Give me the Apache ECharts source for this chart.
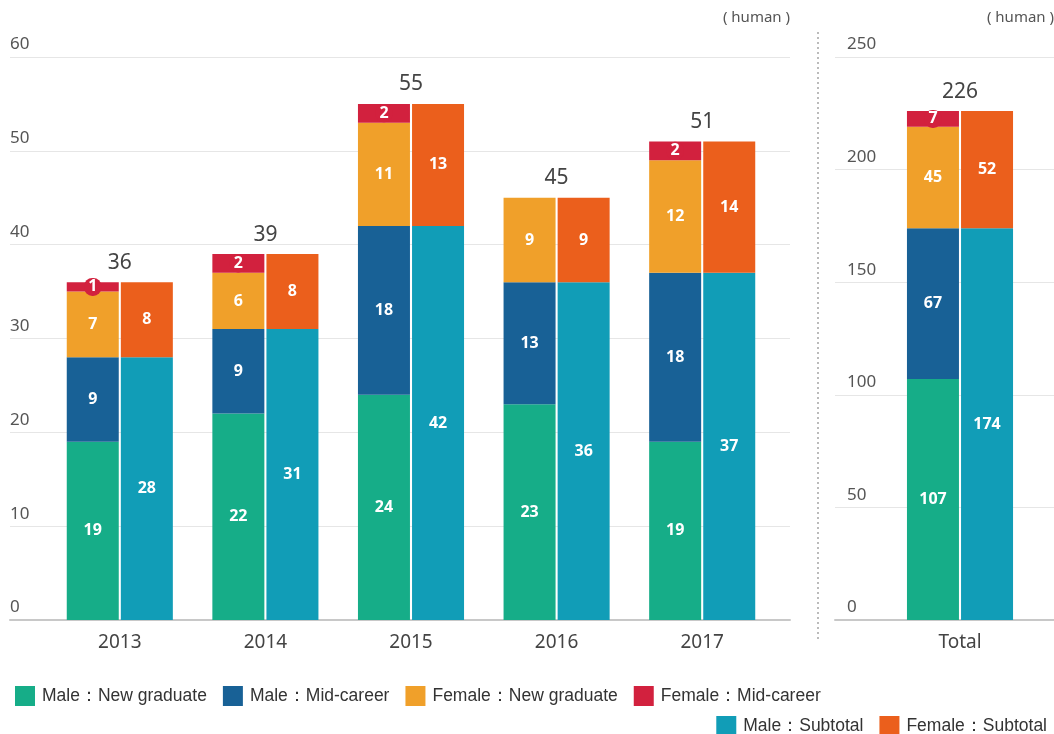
<!DOCTYPE html>
<html><head><meta charset="utf-8">
<script src="https://cdn.jsdelivr.net/npm/echarts@6/dist/echarts.min.js"></script>
<style>html,body{margin:0;padding:0;background:#fff}#c{width:1054px;height:734px}</style>
</head><body><div id="c"></div>
<script>
const years = ['2013','2014','2015','2016','2017'];
const totalCat = ['Total'];
const maleNew = [19,22,24,23,19];
const maleMid = [9,9,18,13,18];
const femaleNew = [7,6,11,9,12];
const femaleMid = [1,2,2,0,2];
const maleSub = [28,31,42,36,37];
const femaleSub = [8,8,13,9,14];
const yearTotals = [36,39,55,45,51];
const totMaleNew = [107], totMaleMid = [67], totFemaleNew = [45], totFemaleMid = [7];
const totMaleSub = [174], totFemaleSub = [52], grandTotal = [226];
const leftTicks = [0,10,20,30,40,50,60];
const rightTicks = [0,50,100,150,200,250];

const C = {mn:'#16ad88', mm:'#186196', fn:'#f0a02a', fm:'#d2213e', ms:'#119db7', fs:'#eb5f1c'};
const chart = echarts.init(document.getElementById('c'));
const TOP = 57, BOT = 734-620;
const inLbl = {show:true, position:'inside', color:'#fff', fontWeight:'bold', fontSize:16, fontFamily:'Noto Sans',
  formatter:p=>p.value?String(p.value):''};
const redLbl = {show:true, position:'inside', formatter:p=>p.value?'{b|'+p.value+'}':'',
  rich:{b:{color:'#fff', fontWeight:'bold', fontSize:16, fontFamily:'Noto Sans', backgroundColor:'#d2213e',
    borderRadius:8, padding:[1,4,1,4], lineHeight:15}}};
function bars(xi, yi, d){
  const common = {type:'bar', xAxisIndex:xi, yAxisIndex:yi, barWidth:52, barGap:'4%', label:inLbl};
  return [
    Object.assign({}, common, {name:'Male：New graduate', stack:'a'+xi, data:d[0], itemStyle:{color:C.mn}}),
    Object.assign({}, common, {name:'Male：Mid-career', stack:'a'+xi, data:d[1], itemStyle:{color:C.mm}}),
    Object.assign({}, common, {name:'Female：New graduate', stack:'a'+xi, data:d[2], itemStyle:{color:C.fn}}),
    Object.assign({}, common, {name:'Female：Mid-career', stack:'a'+xi, data:d[3], itemStyle:{color:C.fm}, label:redLbl}),
    Object.assign({}, common, {name:'Male：Subtotal', stack:'b'+xi, data:d[4], itemStyle:{color:C.ms}}),
    Object.assign({}, common, {name:'Female：Subtotal', stack:'b'+xi, data:d[5], itemStyle:{color:C.fs}})
  ];
}
function totalSeries(xi, yi, data){
  return {type:'bar', xAxisIndex:xi, yAxisIndex:yi, barWidth:106, data:data, silent:true,
    itemStyle:{color:'rgba(0,0,0,0)'},
    label:{show:true, position:'top', distance:9, color:'#444', fontSize:21, fontFamily:'Noto Sans'}};
}
const bgY = (gi, max, itv, padL) => ({type:'value', gridIndex:gi, min:0, max:max, interval:itv,
  axisLine:{show:false}, axisTick:{show:false},
  axisLabel:{inside:true, margin:0, align:'left', verticalAlign:'bottom', padding:[0,0,4,padL], color:'#555', fontSize:17, fontFamily:'Noto Sans'},
  splitLine:{lineStyle:{color:'#e6e6e6', width:1}}});
const hidY = (gi, max) => ({type:'value', gridIndex:gi, min:0, max:max, show:false});
const bgX = gi => ({type:'value', gridIndex:gi, min:0, max:1, axisLine:{lineStyle:{color:'#c8c8c8', width:2}},
  axisTick:{show:false}, axisLabel:{show:false}, splitLine:{show:false}});
const catX = (gi, cats, show) => ({type:'category', gridIndex:gi, data:cats, show:show,
  axisLine:{show:false}, axisTick:{show:false},
  axisLabel:{color:'#444', fontSize:19, margin:13, fontFamily:'Noto Sans'}});
const legText = {fontSize:17.5, color:'#333', fontFamily:'Liberation Sans', padding:[0,0,0,2]};

chart.setOption({
  animation:false,
  grid:[
    {left:10, width:780, top:TOP, bottom:BOT},
    {left:47, width:728, top:TOP, bottom:BOT},
    {left:835, right:0, top:TOP, bottom:BOT},
    {left:880, width:160, top:TOP, bottom:BOT}
  ],
  xAxis:[bgX(0), catX(1, years, true), catX(1, years, false), bgX(2), catX(3, totalCat, true), catX(3, totalCat, false)],
  yAxis:[bgY(0, 60, 10, 0), hidY(1, 60), bgY(2, 250, 50, 12), hidY(3, 250)],
  legend:[
    {left:10, top:681, itemWidth:20, itemHeight:20, itemGap:16, icon:'rect', textStyle:legText,
     data:['Male：New graduate','Male：Mid-career','Female：New graduate','Female：Mid-career']},
    {right:2, top:711, itemWidth:20, itemHeight:20, itemGap:16, icon:'rect', textStyle:legText,
     data:['Male：Subtotal','Female：Subtotal']}
  ],
  graphic:[
    {type:'line', shape:{x1:818, y1:32, x2:818, y2:640}, style:{stroke:'#bbb', lineWidth:2, lineDash:[2,3]}},
    {type:'text', right:264, top:10, style:{text:'( human )', fill:'#555', font:'15px "Noto Sans"'}},
    {type:'text', right:0, top:10, style:{text:'( human )', fill:'#555', font:'15px "Noto Sans"'}}
  ],
  series:[].concat(
    bars(1, 1, [maleNew, maleMid, femaleNew, femaleMid, maleSub, femaleSub]),
    [totalSeries(2, 1, yearTotals)],
    bars(4, 3, [totMaleNew, totMaleMid, totFemaleNew, totFemaleMid, totMaleSub, totFemaleSub]),
    [totalSeries(5, 3, grandTotal)]
  )
});
</script></body></html>
